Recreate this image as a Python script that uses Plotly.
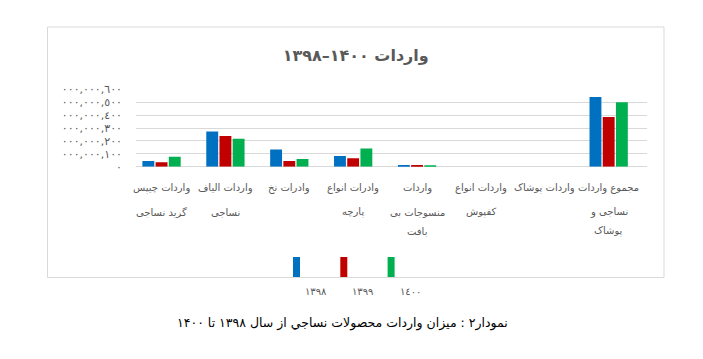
import plotly.graph_objects as go

# ---------------- data ----------------
category_lines = [
    ["واردات چیپس", "گرید نساجی"],
    ["واردات الیاف", "نساجی"],
    ["وادرات نخ"],
    ["وادرات انواع", "پارچه"],
    ["واردات", "منسوجات بی", "بافت"],
    ["واردات انواع", "کفپوش"],
    ["واردات پوشاک"],
    ["مجموع واردات", "نساجی و", "پوشاک"],
]
categories = [" ".join(lines) for lines in category_lines]

series_names = ["١٣٩٨", "١٣٩٩", "١٤٠٠"]
values_1398 = [44e6, 272e6, 134e6, 83e6, 13e6, 0, 0, 540e6]
values_1399 = [34e6, 238e6, 44e6, 65e6, 13e6, 0, 0, 385e6]
values_1400 = [78e6, 217e6, 59e6, 142e6, 8e6, 0, 0, 499e6]
series_values = [values_1398, values_1399, values_1400]
series_colors = ["#0070C0", "#C00000", "#00B050"]

y_tick_values = [0, 100e6, 200e6, 300e6, 400e6, 500e6, 600e6]
y_tick_labels = ["٠", "٠٠٠,٠٠٠,١٠٠", "٠٠٠,٠٠٠,٢٠٠", "٠٠٠,٠٠٠,٣٠٠",
                 "٠٠٠,٠٠٠,٤٠٠", "٠٠٠,٠٠٠,٥٠٠", "٠٠٠,٠٠٠,٦٠٠"]

title_text = "واردات ۱۴۰۰–۱۳۹۸"
caption_text = "نمودار۲ : میزان واردات محصولات نساجي از سال ۱۳۹۸ تا ۱۴۰۰"

# ---------------- layout helpers ----------------
W, H = 703, 359
FONT = "DejaVu Sans"
GREY = "#595959"


def px(x):
    return x / W


def py(y):
    return 1 - y / H


fig = go.Figure()
for name, vals, col in zip(series_names, series_values, series_colors):
    fig.add_trace(go.Bar(x=categories, y=vals, name=name, marker_color=col,
                         marker_line_width=0, showlegend=False))

annotations = []
line_y = [188, 212, 231]
for cat, lines in zip(categories, category_lines):
    for j, t in enumerate(lines):
        annotations.append(dict(text=t, x=cat, xref="x", y=py(line_y[j]), yref="paper",
                                showarrow=False, xanchor="center", yanchor="middle",
                                font=dict(family=FONT, size=10, color=GREY)))

shapes = [dict(type="rect", xref="paper", yref="paper",
               x0=px(47.5), x1=px(664), y0=py(277.5), y1=py(27),
               line=dict(color="#D9D9D9", width=1), fillcolor="rgba(0,0,0,0)", layer="below")]

# custom legend
for i, (name, col) in enumerate(zip(series_names, series_colors)):
    x0 = 293 + i * 47.3
    shapes.append(dict(type="rect", xref="paper", yref="paper",
                       x0=px(x0), x1=px(x0 + 7), y0=py(277), y1=py(257),
                       fillcolor=col, line=dict(width=0)))
    annotations.append(dict(text=name, x=px(x0 + 10), y=py(291), xref="paper", yref="paper",
                            showarrow=False, xanchor="left", yanchor="middle",
                            font=dict(family=FONT, size=10, color=GREY)))

annotations.append(dict(text=caption_text, x=px(342.5), y=py(323), xref="paper", yref="paper",
                        showarrow=False, xanchor="center", yanchor="middle",
                        font=dict(family=FONT, size=12.5, color="#000000")))

fig.update_layout(
    template="none",
    width=W, height=H, autosize=False,
    margin=dict(l=0, r=0, t=0, b=0, pad=0),
    paper_bgcolor="white", plot_bgcolor="white",
    title=dict(text=title_text, x=px(355.7), y=py(55), xanchor="center", yanchor="middle",
               xref="paper", yref="paper",
               font=dict(family=FONT, size=16, color=GREY, weight="bold")),
    barmode="group", bargap=0.38, bargroupgap=0.1,
    xaxis=dict(domain=[px(136), px(647)], range=[-0.4, 7.6], showticklabels=False,
               showgrid=False, zeroline=False, showline=False, ticks="", automargin=False),
    yaxis=dict(domain=[py(166.7), py(89.3)], range=[0, 600e6], tickvals=y_tick_values,
               ticktext=y_tick_labels, showgrid=True, gridcolor="#D9D9D9", gridwidth=1,
               zeroline=True, zerolinecolor="#D9D9D9", zerolinewidth=1, showline=False,
               ticks="", ticklabelstandoff=13, automargin=False,
               tickfont=dict(family=FONT, size=11, color=GREY)),
    annotations=annotations,
    shapes=shapes,
    showlegend=False,
)

fig.write_html("out.html", config={"displayModeBar": False},
               post_script="document.body.style.margin='0';document.body.style.overflow='hidden';")
